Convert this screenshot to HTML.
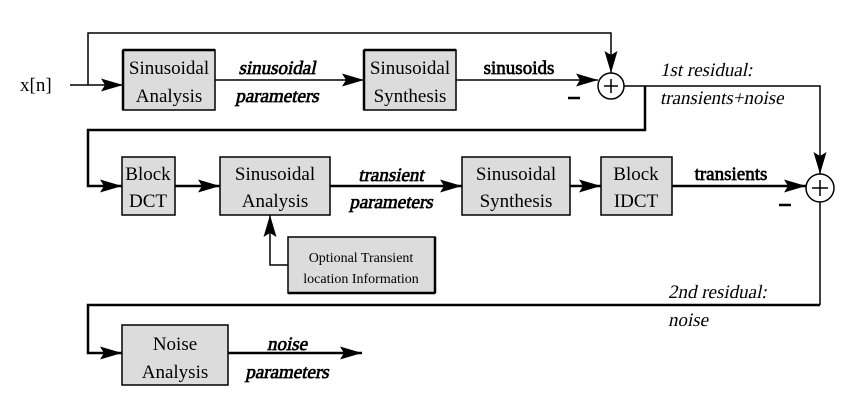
<!DOCTYPE html>
<html><head><meta charset="utf-8"><style>body{margin:0;background:#fff}svg{display:block}text{font-family:"Liberation Serif",serif}.b{stroke:#000;stroke-width:0.7}</style></head><body>
<svg width="867" height="408" viewBox="0 0 867 408" xmlns="http://www.w3.org/2000/svg" font-size="19">
<defs>
<marker id="b" markerWidth="22" markerHeight="13" refX="22" refY="6.5" orient="auto" markerUnits="userSpaceOnUse"><path d="M0,0 L22,6.5 L0,13 L4,6.5 Z" fill="#000"/></marker>
</defs>
<g fill="#dcdcdc" stroke="#000" stroke-width="1.5">
<rect x="123" y="50" width="92" height="60"/>
<rect x="364" y="50" width="92" height="60"/>
<rect x="122" y="157" width="53" height="58"/>
<rect x="220" y="157" width="110" height="58"/>
<rect x="462" y="157" width="108" height="58"/>
<rect x="601" y="157" width="71" height="58"/>
<rect x="288" y="237" width="147" height="56"/>
<rect x="122" y="325" width="106" height="60"/>
</g>
<g stroke="#000" stroke-width="2.5" fill="none">
<line x1="123" y1="50" x2="215" y2="50"/><line x1="123" y1="50" x2="123" y2="110"/>
<line x1="364" y1="50" x2="456" y2="50"/><line x1="364" y1="50" x2="364" y2="110"/>
<line x1="288" y1="293" x2="435" y2="293"/><line x1="435" y1="237" x2="435" y2="293"/>
</g>
<g stroke="#000" stroke-width="1.5" fill="none">
<circle cx="611" cy="86" r="13"/><path d="M604,86h14M611,79v14"/>
<circle cx="820" cy="188" r="14"/><path d="M812,188h16M820,180v16"/>
<path d="M88,85 V33 H611 V73" marker-end="url(#b)"/>
<path d="M70,85 H123" marker-end="url(#b)"/>
<path d="M215,80 H364" marker-end="url(#b)"/>
<path d="M456,80 H598" marker-end="url(#b)"/>
<path d="M624,86 H820 V174" marker-end="url(#b)"/>
<path d="M820,202 V305" />
<path d="M288,265 H270 V215" marker-end="url(#b)"/>
</g>
<g stroke="#000" stroke-width="2.5" fill="none">
<path d="M645,86 V130 H88 V186 H122" marker-end="url(#b)"/>
<path d="M175,186 H220" marker-end="url(#b)"/>
<path d="M330,186 H462" marker-end="url(#b)"/>
<path d="M570,186 H601" marker-end="url(#b)"/>
<path d="M672,186 H806" marker-end="url(#b)"/>
<path d="M820,305 H88 V353 H122" marker-end="url(#b)"/>
<path d="M228,353 H362" marker-end="url(#b)"/>
<path d="M568,98h12M779,205h12"/>
</g>
<g text-anchor="middle">
<text x="169" y="74">Sinusoidal</text><text x="169" y="102">Analysis</text>
<text x="410" y="74">Sinusoidal</text><text x="410" y="102">Synthesis</text>
<text x="148" y="180">Block</text><text x="148" y="207">DCT</text>
<text x="275" y="180">Sinusoidal</text><text x="275" y="207">Analysis</text>
<text x="516" y="180">Sinusoidal</text><text x="516" y="207">Synthesis</text>
<text x="636" y="180">Block</text><text x="636" y="207">IDCT</text>
<text x="175" y="350">Noise</text><text x="175" y="378">Analysis</text>
<g font-size="14"><text x="361" y="262">Optional Transient</text><text x="361" y="283">location Information</text></g>
<g class="b">
<g transform="translate(277,74) skewX(-12)"><text>sinusoidal</text></g>
<g transform="translate(277,102) skewX(-12)"><text>parameters</text></g>
<g transform="translate(391,181) skewX(-12)"><text>transient</text></g>
<g transform="translate(391,208) skewX(-12)"><text>parameters</text></g>
<g transform="translate(287,350) skewX(-12)"><text>noise</text></g>
<g transform="translate(287,378) skewX(-12)"><text>parameters</text></g>
<text x="519" y="74">sinusoids</text><text x="731" y="180">transients</text>
</g>
</g>
<text x="20" y="91">x[n]</text>
<g transform="translate(660,76) skewX(-12)"><text>1st residual:</text></g>
<g transform="translate(660,104) skewX(-12)"><text>transients+noise</text></g>
<g transform="translate(668,298) skewX(-12)"><text>2nd residual:</text></g>
<g transform="translate(668,326) skewX(-12)"><text>noise</text></g>
</svg>
</body></html>
